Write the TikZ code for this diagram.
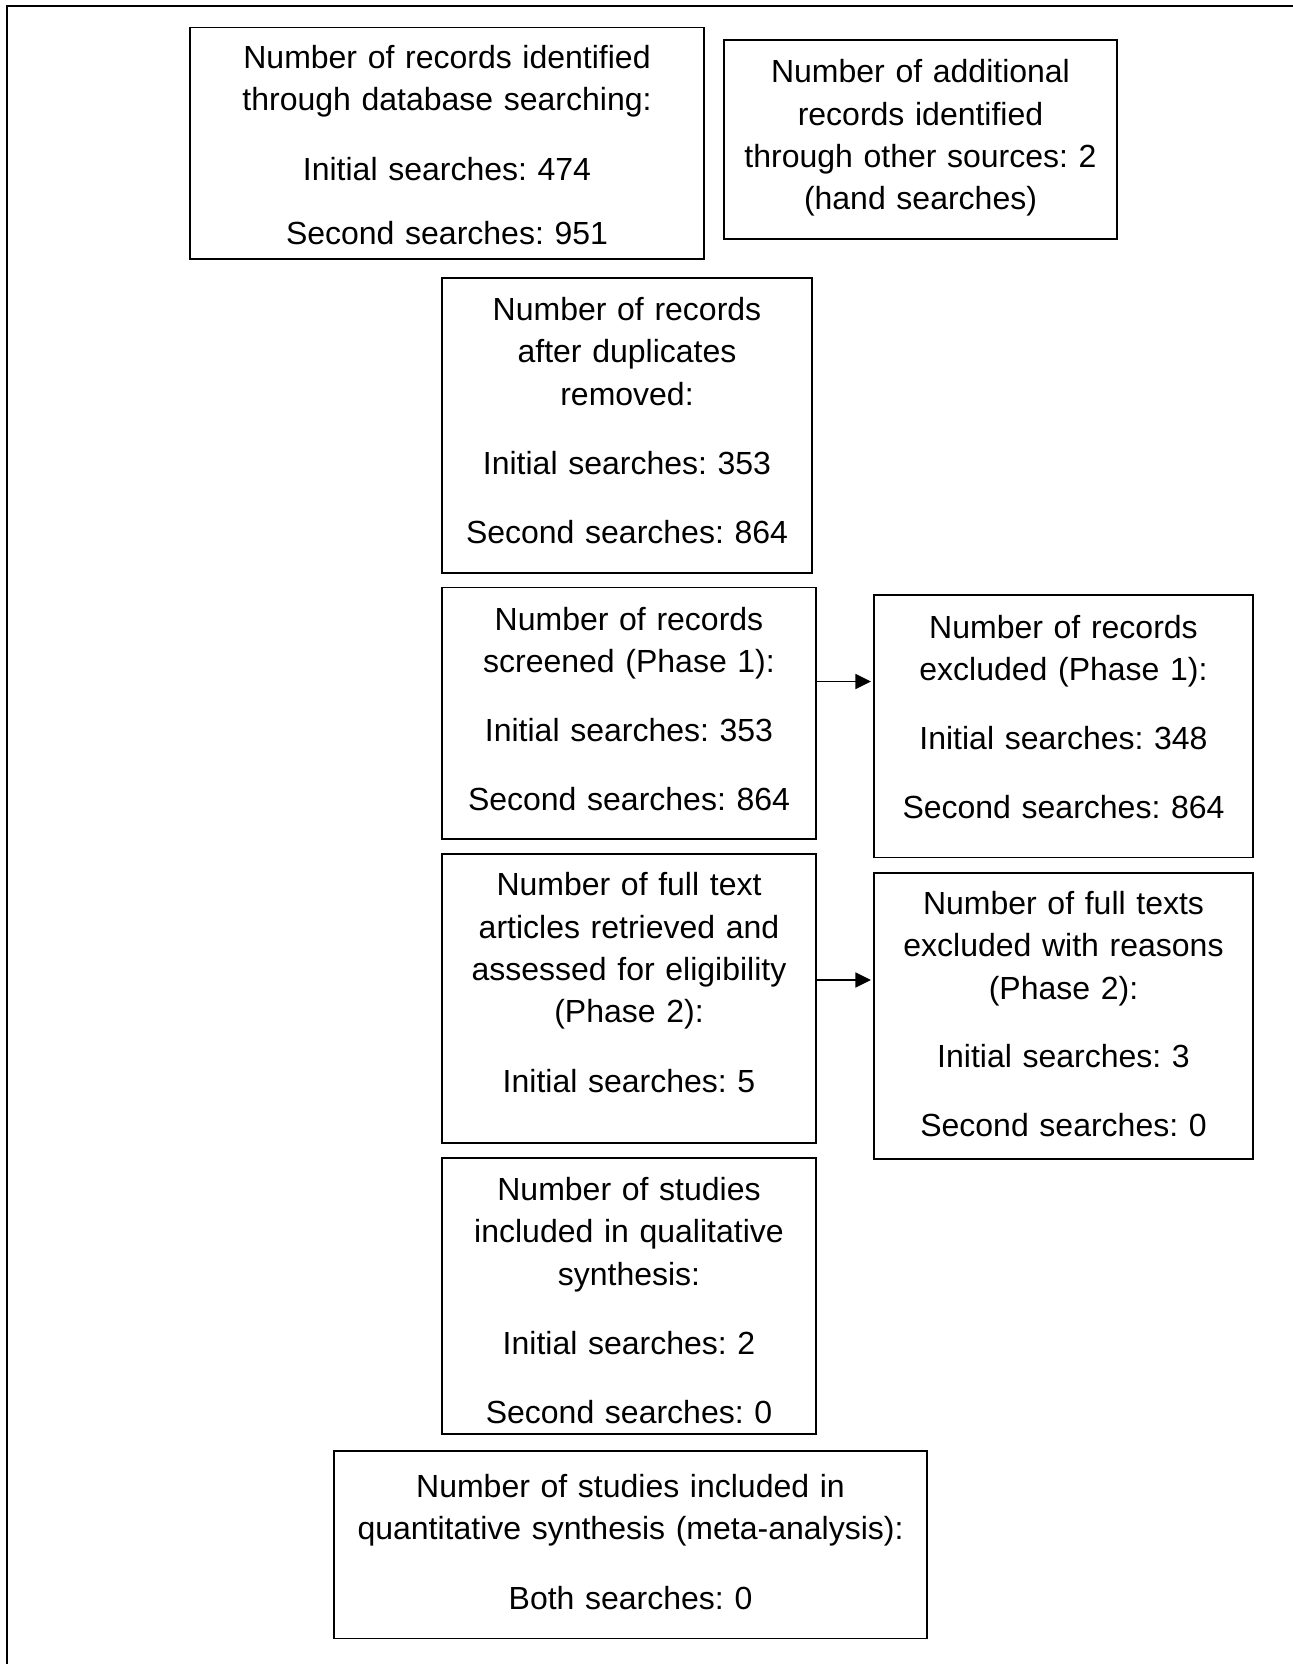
\documentclass[tikz,border=0pt]{standalone}
\usepackage{fontspec}
\setmainfont{Liberation Sans}
\usetikzlibrary{arrows.meta}
\frenchspacing
\begin{document}
\begin{tikzpicture}[x=0.5pt,y=-0.5pt,
  box/.style={draw, line width=0.7pt, inner sep=0pt, outer sep=0pt},
  txt/.style={anchor=base, align=center, inner sep=0pt, text width=290pt,
    font=\fontsize{16}{21.15}\selectfont\frenchspacing},
  arr/.style={line width=0.85pt, -{Triangle[length=7.8pt,width=7.5pt]}, shorten >=1.5pt}]
\useasboundingbox (0,0) rectangle (1293,1664);
\draw[line width=1pt] (6.5,1664) -- (6.5,6) -- (1293,6);
% boxes
\node[box, minimum width=257pt, minimum height=115.75pt] (b1) at (447,143.25) {};
\node[box, minimum width=196.5pt, minimum height=99.5pt] (b2) at (920.5,139.5) {};
\node[box, minimum width=185pt, minimum height=147.5pt] (b3) at (627,425.5) {};
\node[box, minimum width=187pt, minimum height=125.75pt] (b4) at (629,713.25) {};
\node[box, minimum width=189.5pt, minimum height=131.25pt] (b5) at (1063.5,726.25) {};
\node[box, minimum width=187pt, minimum height=144.5pt] (b6) at (629,998.5) {};
\node[box, minimum width=189.5pt, minimum height=143pt] (b7) at (1063.5,1016) {};
\node[box, minimum width=187pt, minimum height=138pt] (b8) at (629,1296) {};
\node[box, minimum width=296.5pt, minimum height=93.75pt] (b9) at (630.5,1544.75) {};
% texts
\node[txt] (t1) at (447,68.5) {Number of records identified\\through database searching:\\[13.75pt]Initial searches: 474\\[11pt]Second searches: 951};
\node[txt] (t2) at (920.5,83) {Number of additional\\records identified\\through other sources: 2\\(hand searches)};
\node[txt] (t3) at (627,320.5) {Number of records\\after duplicates\\removed:\\[13.5pt]Initial searches: 353\\[13.25pt]Second searches: 864};
\node[txt] (t4) at (629,630.3) {Number of records\\screened (Phase 1):\\[13.25pt]Initial searches: 353\\[13.25pt]Second searches: 864};
\node[txt] (t5) at (1063.5,638.6) {Number of records\\excluded (Phase 1):\\[13.25pt]Initial searches: 348\\[13.25pt]Second searches: 864};
\node[txt] (t6) at (629,895.8) {Number of full text\\articles retrieved and\\assessed for eligibility\\(Phase 2):\\[13.5pt]Initial searches: 5};
\node[txt] (t7) at (1063.5,914.5) {Number of full texts\\excluded with reasons\\(Phase 2):\\[13.25pt]Initial searches: 3\\[13.25pt]Second searches: 0};
\node[txt] (t8) at (629,1200.5) {Number of studies\\included in qualitative\\synthesis:\\[13.5pt]Initial searches: 2\\[13.25pt]Second searches: 0};
\node[txt] (t9) at (630.5,1497.5) {Number of studies included in\\quantitative synthesis (meta-analysis):\\[13.5pt]Both searches: 0};
% arrows
\coordinate (a1) at (0,681.5);
\coordinate (a2) at (0,980);
\draw[arr] (b4.east |- a1) -- (b5.west |- a1);
\draw[arr] (b6.east |- a2) -- (b7.west |- a2);
\end{tikzpicture}
\end{document}
